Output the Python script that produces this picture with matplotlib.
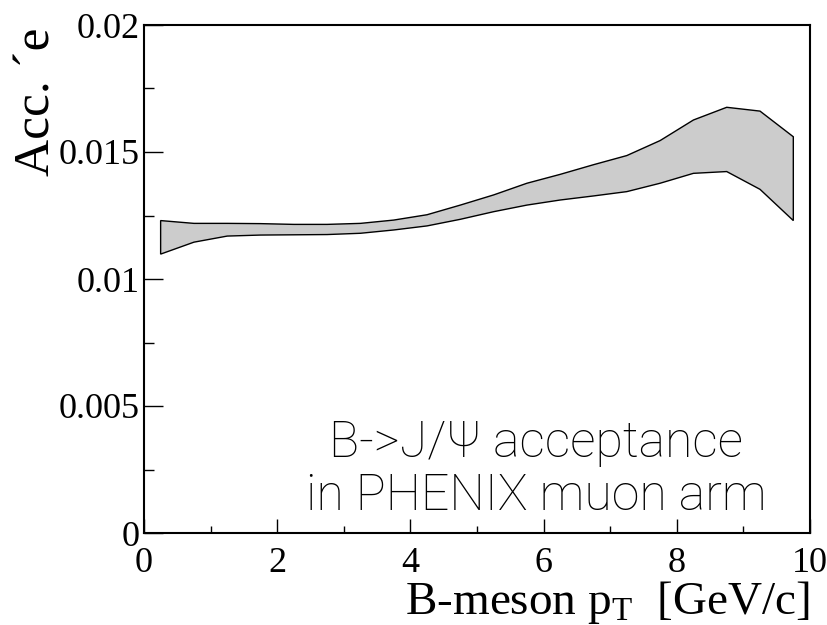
import numpy as np
import matplotlib
matplotlib.use('Agg')
import matplotlib.pyplot as plt
from matplotlib.ticker import FixedLocator, MultipleLocator

plt.rcParams['mathtext.fontset'] = 'custom'
plt.rcParams['mathtext.rm'] = 'Liberation Serif'
plt.rcParams['mathtext.it'] = 'Liberation Serif'

# B-meson pT bin centres and acceptance band edges
pt = [0.25, 0.75, 1.25, 1.75, 2.25, 2.75, 3.25, 3.75, 4.25, 4.75,
      5.25, 5.75, 6.25, 6.75, 7.25, 7.75, 8.25, 8.75, 9.25, 9.75]
acc_hi = [0.01230, 0.01219, 0.01219, 0.01218, 0.01215, 0.01215, 0.01219, 0.01232, 0.01253, 0.01291,
          0.01331, 0.01377, 0.01412, 0.01450, 0.01486, 0.01545, 0.01626, 0.01676, 0.01661, 0.01560]
acc_lo = [0.01098, 0.01145, 0.01169, 0.01173, 0.01174, 0.01175, 0.01180, 0.01193, 0.01209, 0.01235,
          0.01265, 0.01291, 0.01311, 0.01327, 0.01344, 0.01377, 0.01416, 0.01423, 0.01353, 0.01230]

x_ticks = [0, 2, 4, 6, 8, 10]
x_labels = ['0', '2', '4', '6', '8', '10']
y_ticks = [0, 0.005, 0.01, 0.015, 0.02]
y_labels = ['0', '0.005', '0.01', '0.015', '0.02']

fig = plt.figure(figsize=(8.27, 6.25), dpi=100)
ax = fig.add_axes([0.1741, 0.1472, 0.9794 - 0.1741, 0.96 - 0.1472])

# closed band: upper edge forward, lower edge back
xs = np.concatenate([pt, pt[::-1]])
ys = np.concatenate([acc_hi, acc_lo[::-1]])
ax.fill(xs, ys, facecolor='#cccccc', edgecolor='black', lw=1.0)

ax.set_xlim(0, 10)
ax.set_ylim(0, 0.02)

ax.xaxis.set_major_locator(FixedLocator(x_ticks))
ax.set_xticklabels(x_labels)
ax.xaxis.set_minor_locator(MultipleLocator(1))
ax.yaxis.set_major_locator(FixedLocator(y_ticks))
ax.set_yticklabels(y_labels)
ax.yaxis.set_minor_locator(MultipleLocator(0.0025))

ax.tick_params(axis='both', which='both', direction='in', top=False, right=False, width=1.0)
ax.tick_params(axis='x', which='major', length=10, pad=10)
ax.tick_params(axis='x', which='minor', length=5)
ax.tick_params(axis='y', which='major', length=14, pad=3)
ax.tick_params(axis='y', which='minor', length=7)
for lab in ax.get_xticklabels() + ax.get_yticklabels():
    lab.set_family('Liberation Serif')
    lab.set_fontsize(26)

for sp in ax.spines.values():
    sp.set_linewidth(1.5)

fig.text(810 / 827, 11 / 625, r'B-meson $\mathregular{p_T}$  [GeV/c]', family='Liberation Serif',
         fontsize=34, ha='right', va='baseline')
fig.text(0.045, 0.955, 'Acc. \u00b4e', family='Liberation Serif', fontsize=37,
         rotation=90, ha='center', va='top')

# annotation in the lower right of the frame
ax.text(0.589, 0.124, 'B->J/\u03a8 acceptance\nin PHENIX muon arm', transform=ax.transAxes,
        family='Roboto', fontweight='light', fontsize=36, ha='center', va='center', linespacing=1.15)

fig.savefig('out.png', dpi=100)
